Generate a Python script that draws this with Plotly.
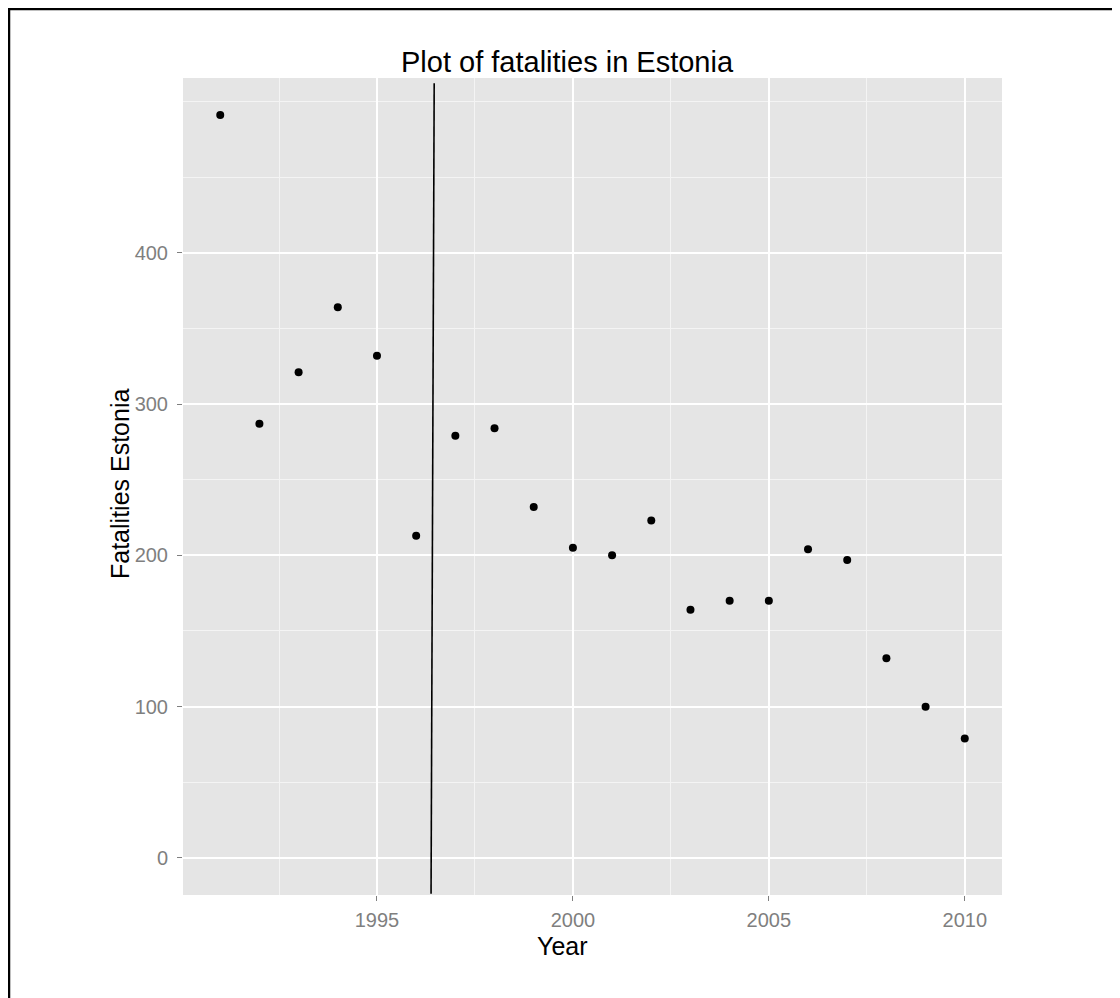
import plotly.graph_objects as go

# Data
years = [1991, 1992, 1993, 1994, 1995, 1996, 1997, 1998, 1999, 2000,
         2001, 2002, 2003, 2004, 2005, 2006, 2007, 2008, 2009, 2010]
fatalities = [491, 287, 321, 364, 332, 213, 279, 284, 232, 205,
              200, 223, 164, 170, 170, 204, 197, 132, 100, 79]

# slanted near-vertical reference line
line_x = [1996.38, 1996.46]
line_y = [-23.6, 512]

x_ticks = [1995, 2000, 2005, 2010]
y_ticks = [0, 100, 200, 300, 400]
x_minor = [1992.5, 1997.5, 2002.5, 2007.5]
y_minor = [50, 150, 250, 350, 450, 500]

OFF = 8  # page body margin
W, H = 1120 - OFF, 998 - OFF
L, R, T, B = 183 - OFF, 1002 - OFF, 78 - OFF, 895 - OFF
pw, ph = R - L, B - T


def px_x(p):
    return (p - OFF - L) / pw


def px_y(p):
    return (B - (p - OFF)) / ph


FONT = "Liberation Sans, Arial, sans-serif"

fig = go.Figure()
fig.add_trace(go.Scatter(x=line_x, y=line_y, mode="lines",
                         line=dict(color="black", width=1.6),
                         hoverinfo="skip", showlegend=False))
fig.add_trace(go.Scatter(x=years, y=fatalities, mode="markers",
                         marker=dict(color="black", size=8),
                         showlegend=False))

axis_common = dict(
    showline=False, zeroline=False,
    gridcolor="white", gridwidth=1.6,
    ticks="outside", ticklen=5, tickwidth=1, tickcolor="#7f7f7f",
    tickfont=dict(family=FONT, size=20, color="#7f7f7f"),
)

fig.update_xaxes(range=[1990.05, 2010.95], tickmode="array", tickvals=x_ticks,
                 ticklabelstandoff=2,
                 minor=dict(tickmode="array", tickvals=x_minor, showgrid=True,
                            gridcolor="#f4f4f4", gridwidth=1.1, ticks=""),
                 **axis_common)
fig.update_yaxes(range=[-24.5, 515.5], tickmode="array", tickvals=y_ticks,
                 ticklabelstandoff=5,
                 minor=dict(tickmode="array", tickvals=y_minor, showgrid=True,
                            gridcolor="#f4f4f4", gridwidth=1.1, ticks=""),
                 **axis_common)

annotations = [
    dict(text="Plot of fatalities in Estonia", x=px_x(567), y=px_y(62),
         xref="paper", yref="paper", xanchor="center", yanchor="middle",
         showarrow=False, font=dict(family=FONT, size=29, color="black")),
    dict(text="Year", x=px_x(562), y=px_y(946),
         xref="paper", yref="paper", xanchor="center", yanchor="middle",
         showarrow=False, font=dict(family=FONT, size=25, color="black")),
    dict(text="Fatalities Estonia", x=px_x(120), y=px_y(484), textangle=-90,
         xref="paper", yref="paper", xanchor="center", yanchor="middle",
         showarrow=False, font=dict(family=FONT, size=25, color="black")),
]

shapes = [
    dict(type="line", xref="paper", yref="paper",
         x0=px_x(8), x1=px_x(1130), y0=px_y(8), y1=px_y(8),
         line=dict(color="black", width=4.5)),
    dict(type="line", xref="paper", yref="paper",
         x0=px_x(8), x1=px_x(8), y0=px_y(8), y1=px_y(1010),
         line=dict(color="black", width=4.5)),
]

fig.update_layout(
    width=W, height=H,
    margin=dict(l=L, r=W - R, t=T, b=H - B, pad=0),
    plot_bgcolor="#e5e5e5", paper_bgcolor="white",
    annotations=annotations, shapes=shapes,
    showlegend=False,
)

fig.write_html("out.html")
